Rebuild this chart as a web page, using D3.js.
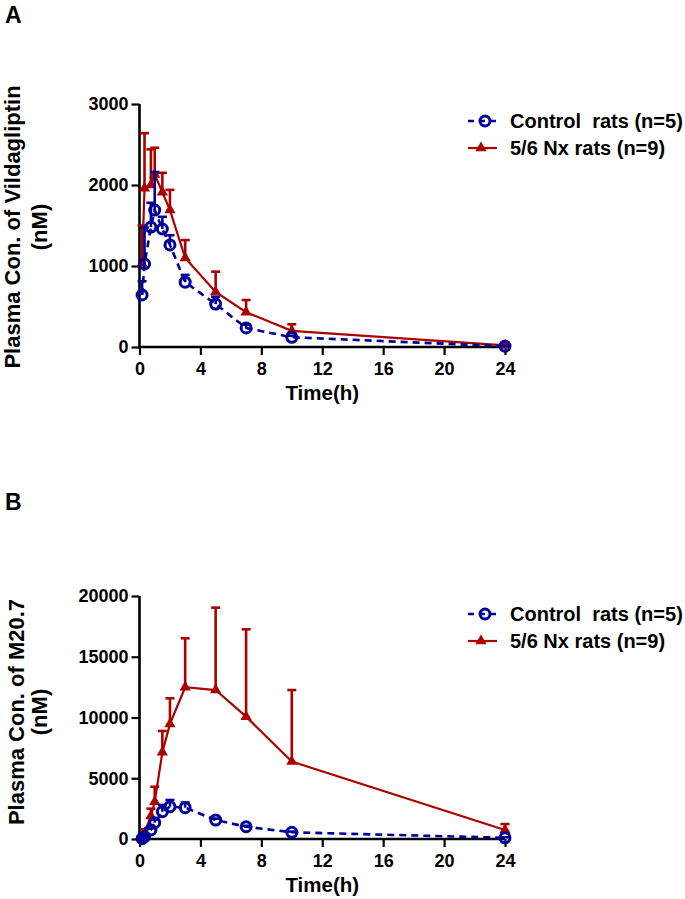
<!DOCTYPE html>
<html><head><meta charset="utf-8">
<script src="https://cdn.jsdelivr.net/npm/d3@7"></script>
<style>
html,body{margin:0;padding:0;background:#fff;}
svg text{font-family:"Liberation Sans",Arial,sans-serif;font-weight:bold;fill:#000;}
</style></head>
<body>
<svg id="c" width="685" height="899"></svg>
<script>
// ---------- data ----------
const timeA = [0.17, 0.33, 0.75, 1, 1.5, 2, 3, 5, 7, 10, 24];
const controlA = [642, 1025, 1480, 1690, 1457, 1260, 800, 530, 235, 120, 10];
const controlA_sd = [170, 450, 300, 470, 150, 120, 90, 90, 40, 20, 5];
const nxA = [1030, 1960, 2000, 2130, 1910, 1690, 1100, 680, 430, 200, 20];
const nxA_sd = [470, 680, 440, 330, 240, 250, 220, 250, 150, 80, 15];

const timeB = [0.17, 0.33, 0.75, 1, 1.5, 2, 3, 5, 7, 10, 24];
const controlB = [30, 190, 740, 1340, 2250, 2660, 2580, 1560, 1010, 550, 100];
const controlB_sd = [20, 60, 150, 250, 550, 550, 420, 120, 80, 60, 40];
const nxB = [150, 500, 1900, 3070, 7130, 9470, 12490, 12260, 10070, 6370, 740];
const nxB_sd = [80, 300, 600, 1230, 1760, 2110, 4030, 6780, 7190, 5890, 490];

const xTicks = [0, 4, 8, 12, 16, 20, 24];
const yTicksA = [0, 1000, 2000, 3000];
const yTicksB = [0, 5000, 10000, 15000, 20000];
const legendLabels = ["Control  rats (n=5)", "5/6 Nx rats (n=9)"];
const panelLetters = ["A", "B"];
const yTitlesA = ["Plasma Con. of Vildagliptin", "(nM)"];
const yTitlesB = ["Plasma Con. of M20.7", "(nM)"];
const xTitle = "Time(h)";

const BLUE = "#000099", RED = "#aa0000";
const svg = d3.select("#c");

function panel(cfg) {
  const g = svg.append("g");
  const x = d3.scaleLinear().domain([0, 24]).range([139.5, 505]);
  const y = d3.scaleLinear().domain([0, cfg.ymax]).range([cfg.y0, cfg.y1]);

  // letter
  g.append("text").attr("x", 5).attr("y", cfg.letterY).style("font-size", "23px").text(cfg.letter);

  // axes
  const ax = g.append("g").attr("transform", `translate(0,${cfg.y0})`)
    .call(d3.axisBottom(x).tickValues(xTicks).tickSize(8).tickSizeOuter(0).tickPadding(7).tickFormat(d3.format("d")));
  const ay = g.append("g").attr("transform", `translate(${x(0)},0)`)
    .call(d3.axisLeft(y).tickValues(cfg.yTicks).tickSize(8).tickSizeOuter(0).tickPadding(3).tickFormat(d3.format("d")));
  [ax, ay].forEach(a => {
    a.select(".domain").attr("stroke", "#000").attr("stroke-width", 2.6);
    a.selectAll(".tick line").attr("stroke", "#000").attr("stroke-width", 2.2);
    a.selectAll(".tick text").style("font-size", "18px").attr("fill", "#000");
  });
  ax.select(".domain").attr("d", `M${x(0)-1.3},0H${x(24)}`);
  ay.select(".domain").attr("d", `M0,${y(0)+1.3}V${y(cfg.ymax)}`);

  // axis titles
  g.append("text").attr("x", (x(0) + x(24)) / 2).attr("y", cfg.y0 + 53)
    .attr("text-anchor", "middle").style("font-size", "20.5px").text(xTitle);
  cfg.yTitles.forEach((t, i) => {
    g.append("text").attr("transform", `translate(${cfg.titleX[i]},${cfg.titleCy}) rotate(-90)`)
      .attr("text-anchor", "middle").style("font-size", "22px").text(t);
  });

  const series = [
    { v: cfg.nx, sd: cfg.nxSd, color: RED, dash: null, marker: "tri", w: 2.2 },
    { v: cfg.ctl, sd: cfg.ctlSd, color: BLUE, dash: "7,5", marker: "circ", w: 2.6 }
  ];
  const t = cfg.time;
  series.forEach(s => {
    const pts = t.map((tt, i) => ({ t: tt, v: s.v[i], sd: s.sd[i] }));
    const eb = g.append("g");
    pts.forEach(p => {
      eb.append("line").attr("x1", x(p.t)).attr("x2", x(p.t)).attr("y1", y(p.v)).attr("y2", y(p.v + p.sd))
        .attr("stroke", s.color).attr("stroke-width", 2.6);
      eb.append("line").attr("x1", x(p.t) - 4.5).attr("x2", x(p.t) + 4.5).attr("y1", y(p.v + p.sd)).attr("y2", y(p.v + p.sd))
        .attr("stroke", s.color).attr("stroke-width", 2.6);
    });
    g.append("path").datum(pts)
      .attr("d", d3.line().x(d => x(d.t)).y(d => y(d.v)))
      .attr("fill", "none").attr("stroke", s.color).attr("stroke-width", s.w)
      .attr("stroke-dasharray", s.dash);
    const mk = g.append("g");
    pts.forEach(p => drawMarker(mk, s.marker, x(p.t), y(p.v), s.color));
  });

  // legend
  const lg = g.append("g");
  [[BLUE, true, "circ", 2.6, 485], [RED, false, "tri", 2.2, 481]].forEach((m, i) => {
    const ly = cfg.legendY + i * 27;
    lg.append("line").attr("x1", 468).attr("x2", 497).attr("y1", ly).attr("y2", ly)
      .attr("stroke", m[0]).attr("stroke-width", m[3]).attr("stroke-dasharray", m[1] ? "6,5" : null);
    drawMarker(lg, m[2], m[4], ly, m[0]);
    lg.append("text").attr("x", 510).attr("y", ly + 7).style("font-size", "20px")
      .style("white-space", "pre").attr("xml:space", "preserve").text(legendLabels[i]);
  });
}

function drawMarker(g, type, cx, cy, color) {
  if (type === "circ") {
    g.append("circle").attr("cx", cx).attr("cy", cy).attr("r", 5)
      .attr("fill", "none").attr("stroke", color).attr("stroke-width", 3);
  } else {
    g.append("path").attr("d", d3.symbol().type(d3.symbolTriangle).size(55)())
      .attr("transform", `translate(${cx},${cy})`).attr("fill", color);
  }
}

panel({ letter: panelLetters[0], letterY: 23, ymax: 3000, y0: 347, y1: 104, yTicks: yTicksA,
  yTitles: yTitlesA, titleX: [20, 47], titleCy: 227, time: timeA, ctl: controlA, ctlSd: controlA_sd,
  nx: nxA, nxSd: nxA_sd, legendY: 121 });
panel({ letter: panelLetters[1], letterY: 510, ymax: 20000, y0: 839, y1: 596, yTicks: yTicksB,
  yTitles: yTitlesB, titleX: [24, 47], titleCy: 712, time: timeB, ctl: controlB, ctlSd: controlB_sd,
  nx: nxB, nxSd: nxB_sd, legendY: 614 });
</script>
</body></html>
